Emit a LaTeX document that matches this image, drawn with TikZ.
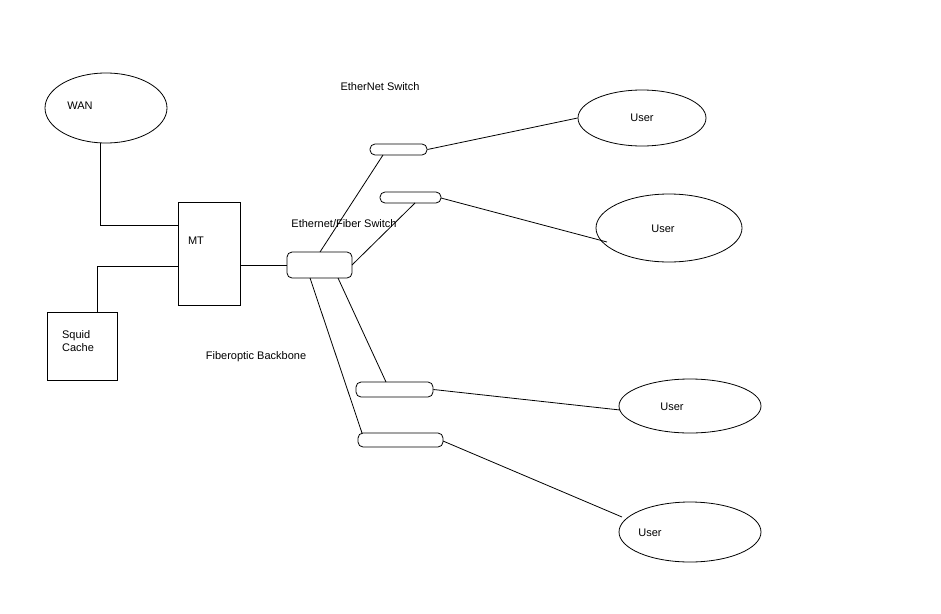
\documentclass[tikz,border=0pt]{standalone}
\usepackage{fontspec}
\setmainfont{Liberation Sans}
\usetikzlibrary{shapes.geometric}
\begin{document}
\begin{tikzpicture}[x=1pt,y=-1pt,line width=0.8pt,
  lbl/.style={font=\fontsize{11}{13}\selectfont},
  sw/.style={draw,rounded corners=5pt,inner sep=0pt},
  usr/.style={draw,ellipse,inner sep=0pt},
  box/.style={draw,inner sep=0pt}]
\useasboundingbox[fill=white] (0,0) rectangle (941,613);
\node[usr,minimum width=122pt,minimum height=70pt] (wan) at (106,108) {};
\node[lbl] at (80,106) {WAN};
\node[box,minimum width=62pt,minimum height=103pt] (mt) at (209,253.5) {};
\node[lbl] at (196,241) {MT};
\node[box,minimum width=70pt,minimum height=68pt] (sq) at (82,346) {};
\node[lbl,align=left] at (78,341) {Squid\\Cache};
\node[sw,minimum width=65pt,minimum height=26pt] (ef) at (319.5,265) {};
\node[sw,minimum width=57pt,minimum height=11pt] (s1) at (398.5,149.5) {};
\node[sw,minimum width=61pt,minimum height=11pt] (s2) at (410.5,197.5) {};
\node[sw,minimum width=77pt,minimum height=15pt] (s3) at (394.5,389.5) {};
\node[sw,minimum width=85pt,minimum height=14pt] (s4) at (400.5,440) {};
\node[usr,minimum width=128pt,minimum height=56pt] (u1) at (642,118) {};
\node[usr,minimum width=146pt,minimum height=68pt] (u2) at (669,228) {};
\node[usr,minimum width=142pt,minimum height=54pt] (u3) at (690,406) {};
\node[usr,minimum width=142pt,minimum height=60pt] (u4) at (690,532) {};
\node[lbl] at (642,118) {User};
\node[lbl] at (663,229) {User};
\node[lbl] at (672,407) {User};
\node[lbl] at (650,533) {User};
\node[lbl] at (380,87) {EtherNet Switch};
\node[lbl] at (344,224) {Ethernet/Fiber Switch};
\node[lbl] at (256,357) {Fiberoptic Backbone};
\coordinate (w1) at (100,225);
\coordinate (q1) at (97,266);
\draw (wan.south -| w1) -- (w1) -- (mt.west |- w1);
\draw (sq.north -| q1) -- (q1) -- (mt.west |- q1);
\draw (mt.east |- ef) -- (ef.west);
\draw (320,252) -- (383,155);
\draw (352,265) -- (415,203);
\draw (338,278) -- (386,382);
\draw (310,278) -- (362,433);
\draw (s1.east) -- (u1.west);
\draw (441,198) -- (607,242);
\draw (s3.east) -- (620,410);
\draw (443,441) -- (622,517);
\end{tikzpicture}
\end{document}
